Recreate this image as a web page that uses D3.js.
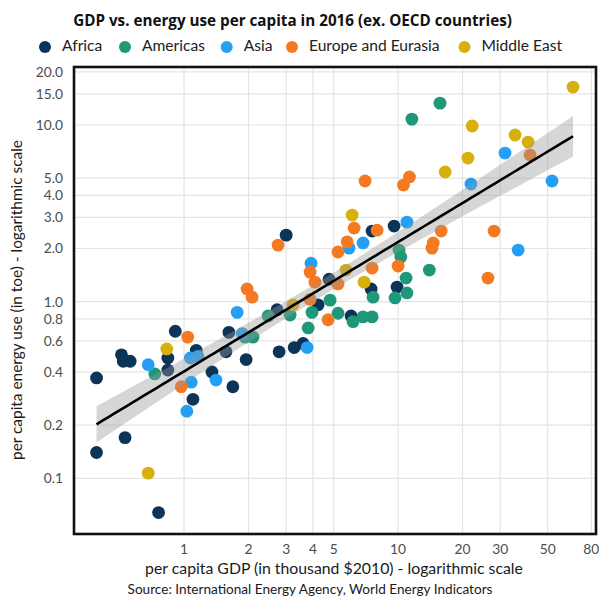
<!DOCTYPE html>
<html>
<head>
<meta charset="utf-8">
<script src="https://cdn.jsdelivr.net/npm/d3@7"></script>
<style>
  body { margin: 0; background: #fff; }
  text { font-family: Lato, "Noto Sans", sans-serif; }
</style>
</head>
<body>
<svg width="599" height="599"></svg>
<script>
// regions and colours
const regions = ["Africa", "Americas", "Asia", "Europe and Eurasia", "Middle East"];
const regionColors = ["#0c3358", "#1f987a", "#259ff4", "#f47920", "#d8b00c"];

// per capita GDP (thousand $2010) and energy use (toe)
const africaGdp = [0.39, 0.39, 0.51, 0.52, 0.56, 0.53, 0.76, 0.84, 0.84, 0.91, 1.14, 1.10, 1.35, 1.62, 1.57, 1.95, 1.69, 2.72, 2.78, 3.27, 3.6, 3.0, 4.23, 4.76, 6.03, 7.56, 9.58, 7.48, 9.89];
const africaEnergy = [0.37, 0.14, 0.50, 0.46, 0.46, 0.17, 0.064, 0.48, 0.41, 0.68, 0.53, 0.28, 0.40, 0.67, 0.52, 0.47, 0.33, 0.90, 0.52, 0.55, 0.58, 2.38, 0.96, 1.34, 0.83, 2.51, 2.68, 1.18, 1.21];

const americasGdp = [0.73, 1.93, 2.10, 2.47, 3.13, 3.96, 3.80, 4.81, 5.24, 6.16, 6.86, 7.56, 7.64, 9.68, 11.0, 10.9, 10.1, 10.3, 14.0, 11.6, 15.7];
const americasEnergy = [0.39, 0.63, 0.63, 0.83, 0.84, 0.87, 0.71, 1.02, 0.86, 0.77, 0.82, 0.82, 1.06, 1.05, 1.12, 1.36, 1.96, 1.79, 1.51, 10.8, 13.3];

const asiaGdp = [0.68, 1.07, 1.16, 1.08, 1.41, 1.03, 1.77, 1.87, 3.92, 3.76, 5.90, 6.86, 11.0, 21.9, 31.6, 52.4, 36.4];
const asiaEnergy = [0.44, 0.48, 0.49, 0.35, 0.36, 0.24, 0.87, 0.66, 1.65, 0.55, 2.01, 2.15, 2.82, 4.63, 6.94, 4.82, 1.96];

const europeGdp = [1.04, 0.97, 1.97, 2.08, 2.75, 3.88, 4.09, 3.88, 4.71, 5.24, 5.24, 5.78, 6.23, 7.98, 7.56, 10.0, 7.01, 11.3, 10.6, 14.6, 14.4, 15.9, 28.1, 26.3, 41.4];
const europeEnergy = [0.63, 0.33, 1.18, 1.06, 2.09, 1.47, 1.29, 1.03, 0.79, 1.26, 1.91, 2.18, 2.61, 2.54, 1.55, 1.59, 4.82, 5.08, 4.57, 2.15, 2.01, 2.51, 2.51, 1.36, 6.76];

const middleEastGdp = [0.83, 0.68, 3.23, 5.71, 6.10, 6.94, 16.6, 21.2, 22.2, 35.2, 40.5, 65.7];
const middleEastEnergy = [0.54, 0.107, 0.96, 1.51, 3.09, 1.29, 5.42, 6.50, 9.87, 8.78, 8.01, 16.4];

// axis ticks
const xTicks = [1, 2, 3, 4, 5, 10, 20, 30, 50, 80];
const yTicks = [0.1, 0.2, 0.4, 0.6, 0.8, 1, 2, 3, 4, 5, 10, 15, 20];

const gdpByRegion = [africaGdp, americasGdp, asiaGdp, europeGdp, middleEastGdp];
const energyByRegion = [africaEnergy, americasEnergy, asiaEnergy, europeEnergy, middleEastEnergy];

const points = [];
regions.forEach((r, i) => {
    gdpByRegion[i].forEach((g, j) => {
        points.push({ region: r, color: regionColors[i], gdp: g, energy: energyByRegion[i][j] });
    });
});

// plot area
const panel = { left: 74, right: 596, top: 67, bottom: 534 };

const xScale = d3.scaleLog().domain([0.306, 84.1]).range([panel.left, panel.right]);
const yScale = d3.scaleLog().domain([0.0484, 21.3]).range([panel.bottom, panel.top]);

const svg = d3.select("svg");

// gridlines
svg.append("g")
    .selectAll("line")
    .data(xTicks)
    .join("line")
    .attr("x1", (d) => xScale(d))
    .attr("x2", (d) => xScale(d))
    .attr("y1", panel.top)
    .attr("y2", panel.bottom)
    .attr("stroke", "#e4e4e4")
    .attr("stroke-width", 1.2);

svg.append("g")
    .selectAll("line")
    .data(yTicks)
    .join("line")
    .attr("x1", panel.left)
    .attr("x2", panel.right)
    .attr("y1", (d) => yScale(d))
    .attr("y2", (d) => yScale(d))
    .attr("stroke", "#e4e4e4")
    .attr("stroke-width", 1.2);

// points
svg.append("g")
    .selectAll("circle")
    .data(points)
    .join("circle")
    .attr("cx", (d) => xScale(d.gdp))
    .attr("cy", (d) => yScale(d.energy))
    .attr("r", 6.4)
    .attr("fill", (d) => d.color);

// linear fit on log-log with 95% confidence band
const lx = points.map((d) => Math.log10(d.gdp));
const ly = points.map((d) => Math.log10(d.energy));
const n = points.length;
const mx = d3.mean(lx);
const my = d3.mean(ly);
const sxx = d3.sum(lx, (v) => (v - mx) ** 2);
const sxy = d3.sum(lx, (v, i) => (v - mx) * (ly[i] - my));
const slope = sxy / sxx;
const intercept = my - slope * mx;
const resid = d3.sum(lx, (v, i) => (ly[i] - (intercept + slope * v)) ** 2);
const s = Math.sqrt(resid / (n - 2));
const tCrit = 1.98;

const [xMin, xMax] = d3.extent(lx);
const fit = d3.range(0, 81).map((k) => {
    const v = xMin + ((xMax - xMin) * k) / 80;
    const yhat = intercept + slope * v;
    const half = tCrit * s * Math.sqrt(1 / n + (v - mx) ** 2 / sxx);
    return { x: 10 ** v, y: 10 ** yhat, lo: 10 ** (yhat - half), hi: 10 ** (yhat + half) };
});

svg.append("path")
    .datum(fit)
    .attr("d", d3.area().x((d) => xScale(d.x)).y0((d) => yScale(d.lo)).y1((d) => yScale(d.hi)))
    .attr("fill", "#999999")
    .attr("fill-opacity", 0.4);

svg.append("path")
    .datum(fit)
    .attr("d", d3.line().x((d) => xScale(d.x)).y((d) => yScale(d.y)))
    .attr("fill", "none")
    .attr("stroke", "#000")
    .attr("stroke-width", 2.6);

// panel border
svg.append("rect")
    .attr("x", panel.left)
    .attr("y", panel.top)
    .attr("width", panel.right - panel.left)
    .attr("height", panel.bottom - panel.top)
    .attr("fill", "none")
    .attr("stroke", "#111")
    .attr("stroke-width", 2.6);

// axes labels
svg.append("g")
    .selectAll("text")
    .data(yTicks)
    .join("text")
    .attr("x", panel.left - 11)
    .attr("y", (d) => yScale(d) + 1.5)
    .attr("text-anchor", "end")
    .attr("dominant-baseline", "middle")
    .attr("font-size", 13.8)
    .attr("fill", "#4d4d4d")
    .text((d) => d3.format(".1f")(d));

svg.append("g")
    .selectAll("text")
    .data(xTicks)
    .join("text")
    .attr("x", (d) => xScale(d))
    .attr("y", 550)
    .attr("text-anchor", "middle")
    .attr("dominant-baseline", "middle")
    .attr("font-size", 13.8)
    .attr("fill", "#4d4d4d")
    .text((d) => d);

svg.append("text")
    .attr("x", 334)
    .attr("y", 570)
    .attr("text-anchor", "middle")
    .attr("dominant-baseline", "middle")
    .attr("font-size", 15.8)
    .attr("fill", "#1a1a1a")
    .text("per capita GDP (in thousand $2010) - logarithmic scale");

svg.append("text")
    .attr("transform", "translate(18,300) rotate(-90)")
    .attr("text-anchor", "middle")
    .attr("dominant-baseline", "middle")
    .attr("font-size", 15.4)
    .attr("fill", "#1a1a1a")
    .text("per capita energy use (in toe) - logarithmic scale");

svg.append("text")
    .attr("x", 310)
    .attr("y", 591)
    .attr("text-anchor", "middle")
    .attr("dominant-baseline", "middle")
    .attr("font-size", 13.6)
    .attr("fill", "#1a1a1a")
    .text("Source: International Energy Agency, World Energy Indicators");

// title, sized to span the same width as the original
const title = svg.append("text")
    .attr("x", 292.5)
    .attr("y", 25.7)
    .attr("text-anchor", "middle")
    .style("font-family", "'Open Sans', Lato, sans-serif")
    .attr("font-size", 13)
    .attr("font-weight", "bold")
    .attr("fill", "#111")
    .text("GDP vs. energy use per capita in 2016 (ex. OECD countries)");
const titleWidth = title.node().getComputedTextLength();
title.attr("font-size", (13 * 439) / titleWidth);

// legend
const legendX = [45, 125, 226.7, 292, 464.5];
const legend = svg.append("g")
    .selectAll("g")
    .data(regions)
    .join("g")
    .attr("transform", (d, i) => `translate(${legendX[i]},47)`);

legend.append("circle")
    .attr("r", 6)
    .attr("fill", (d, i) => regionColors[i]);

legend.append("text")
    .attr("x", 17)
    .attr("dominant-baseline", "middle")
    .attr("font-size", 15.6)
    .attr("fill", "#222")
    .text((d) => d);
</script>
</body>
</html>
